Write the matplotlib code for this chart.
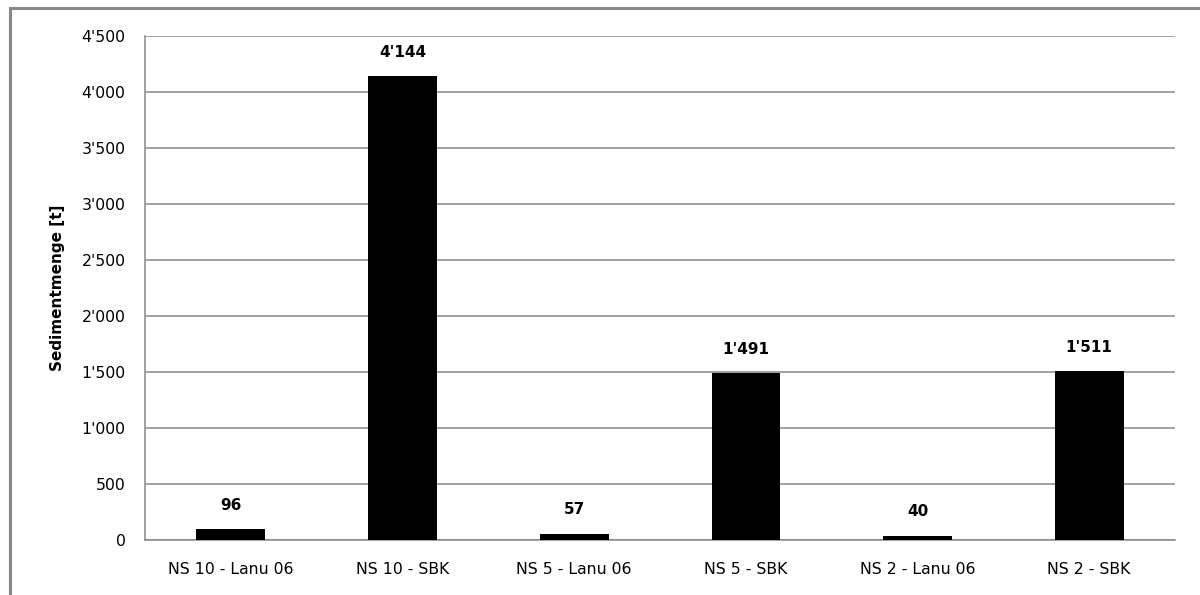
import matplotlib
matplotlib.use("Agg")
import matplotlib.pyplot as plt
from matplotlib.patches import Rectangle
from matplotlib.ticker import FuncFormatter

categories = ["NS 10 - Lanu 06", "NS 10 - SBK", "NS 5 - Lanu 06", "NS 5 - SBK", "NS 2 - Lanu 06", "NS 2 - SBK"]
values = [96, 4144, 57, 1491, 40, 1511]
yticks = [0, 500, 1000, 1500, 2000, 2500, 3000, 3500, 4000, 4500]

plt.rcParams['font.family'] = ['DejaVu Sans']

def fmt(v):
    return f"{int(v):,}".replace(",", "'")

fig = plt.figure(figsize=(12, 5.95), dpi=100)
ax = fig.add_axes([145/1200, 1-540/595, (1175-145)/1200, (540-36)/595])

x = list(range(len(categories)))
ax.bar(x, values, width=0.4, color='black', zorder=3)
for xi, v in zip(x, values):
    ax.text(xi, v + 145, fmt(v), ha='center', va='bottom', fontsize=11, fontweight='bold')

ax.set_xlim(-0.5, len(categories) - 0.5)
ax.set_ylim(0, 4500)
ax.set_yticks(yticks)
ax.yaxis.set_major_formatter(FuncFormatter(lambda v, p: fmt(v)))
ax.set_xticks(x)
ax.set_xticklabels(categories)
ax.tick_params(axis='both', length=0, labelsize=11.3, colors='black')
ax.tick_params(axis='x', pad=16)
ax.tick_params(axis='y', pad=14)
ax.grid(axis='y', color='#888888', linewidth=1.1, zorder=0)
for s in ['top', 'right']:
    ax.spines[s].set_visible(False)
for s in ['left', 'bottom']:
    ax.spines[s].set_color('#888888')
    ax.spines[s].set_linewidth(1.1)
ax.set_ylabel("Sedimentmenge [t]", fontsize=11, fontweight='bold')
ax.yaxis.set_label_coords(-80/1030, 0.5)

fig.patches.append(Rectangle((9.5/1200, -0.05), 1.2, 1 - 7.5/595 + 0.05, transform=fig.transFigure,
                             fill=False, edgecolor='#888888', linewidth=2.2))

fig.savefig("out.png", dpi=100)
